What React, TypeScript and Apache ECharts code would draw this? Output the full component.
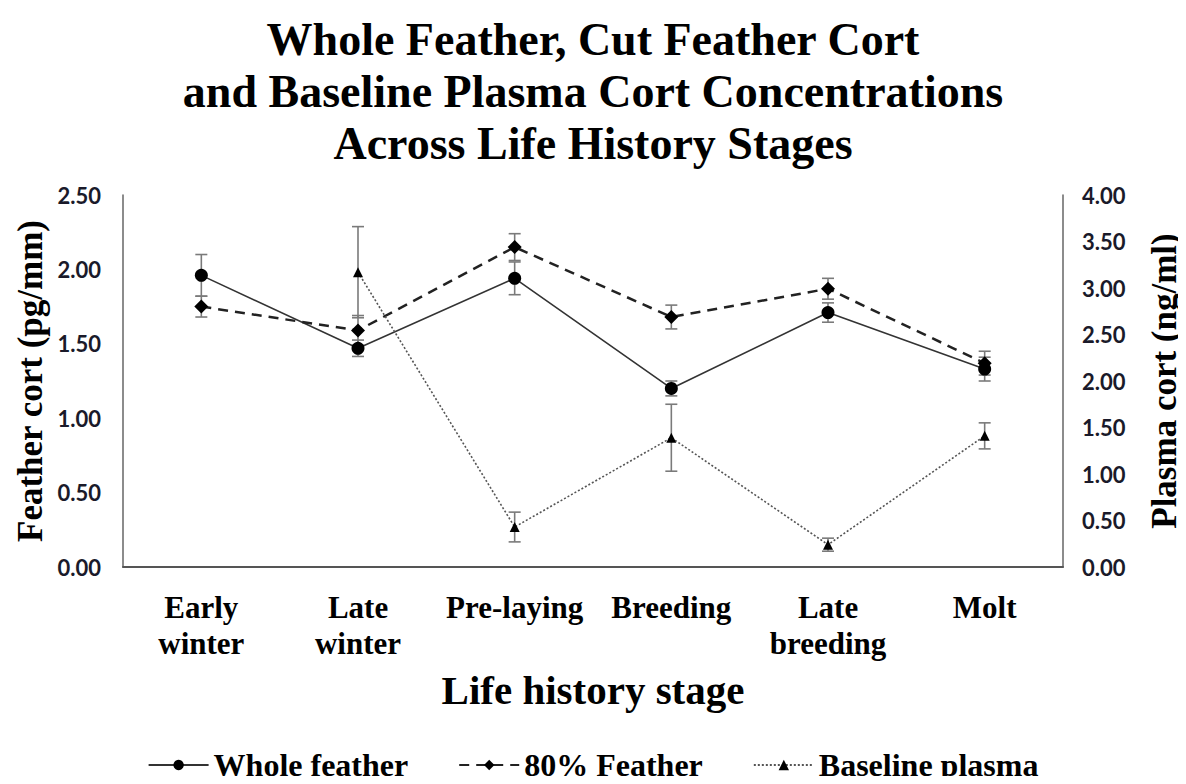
import React, { useEffect, useRef } from "react";
import * as echarts from "echarts";

const categories = ["Early\nwinter", "Late\nwinter", "Pre-laying", "Breeding", "Late\nbreeding", "Molt"];
const wholeFeather = [1.96, 1.47, 1.94, 1.2, 1.71, 1.33];
const wholeFeatherErr = [0.14, 0.055, 0.11, 0.05, 0.065, 0.08];
const cutFeather = [1.75, 1.59, 2.15, 1.68, 1.87, 1.37];
const cutFeatherErr = [0.07, 0.1, 0.09, 0.08, 0.07, 0.08];
const plasma: (number | null)[] = [null, 3.17, 0.43, 1.39, 0.24, 1.41];
const plasmaErr: (number | null)[] = [null, 0.49, 0.16, 0.36, 0.07, 0.14];
const leftTicks = { min: 0, max: 2.5, interval: 0.5 };
const rightTicks = { min: 0, max: 4, interval: 0.5 };

const SERIF = "'Liberation Serif', 'Times New Roman', serif";
const SANS = "Lato, 'Noto Sans', sans-serif";

function errData(vals: (number | null)[], errs: (number | null)[]) {
  const out: number[][] = [];
  vals.forEach((v, i) => {
    const e = errs[i];
    if (v != null && e != null) out.push([i, v - e, v + e]);
  });
  return out;
}

function errRender(params: any, api: any) {
  const x = api.value(0);
  const lo = api.value(1);
  const hi = api.value(2);
  const p1 = api.coord([x, hi]);
  const p2 = api.coord([x, lo]);
  const w = 6;
  const style = { stroke: "#7a7a7a", lineWidth: 1.6 };
  return {
    type: "group",
    children: [
      { type: "line", shape: { x1: p1[0], y1: p1[1], x2: p2[0], y2: p2[1] }, style },
      { type: "line", shape: { x1: p1[0] - w, y1: p1[1], x2: p1[0] + w, y2: p1[1] }, style },
      { type: "line", shape: { x1: p2[0] - w, y1: p2[1], x2: p2[0] + w, y2: p2[1] }, style },
    ],
  };
}

export default function App() {
  const ref = useRef<HTMLDivElement>(null);
  useEffect(() => {
    if (!ref.current) return;
    const chart = echarts.init(ref.current, null, { renderer: "svg" });
    const axisLabelStyle = {
      fontFamily: SANS,
      fontWeight: "bold" as const,
      fontSize: 22,
      color: "#1a1a2a",
    };
    chart.setOption({
      animation: false,
      backgroundColor: "#ffffff",
      title: {
        text: "Whole Feather, Cut Feather Cort\nand Baseline Plasma Cort Concentrations\nAcross Life History Stages",
        left: "center",
        top: 8,
        textStyle: {
          fontFamily: SERIF,
          fontWeight: "bold",
          fontSize: 46,
          lineHeight: 52,
          color: "#000",
        },
      },
      legend: {
        data: ["Whole feather", "80% Feather", "Baseline plasma"],
        left: "center",
        top: 744,
        itemWidth: 60,
        itemHeight: 13,
        itemGap: 50,
        textStyle: { fontFamily: SERIF, fontWeight: "bold", fontSize: 32, color: "#000" },
      },
      grid: { left: 123, right: 123, top: 195, bottom: 217, outerBoundsMode: "none", containLabel: false },
      xAxis: {
        type: "category",
        data: categories,
        boundaryGap: true,
        axisTick: { show: false },
        axisLine: { lineStyle: { color: "#555", width: 2 } },
        axisLabel: {
          fontFamily: SERIF,
          fontWeight: "bold",
          fontSize: 31,
          lineHeight: 36,
          color: "#000",
          margin: 22,
          interval: 0,
        },
        name: "Life history stage",
        nameLocation: "middle",
        nameGap: 102,
        nameMoveOverlap: false,
        nameTextStyle: { fontFamily: SERIF, fontWeight: "bold", fontSize: 41, color: "#000" },
      },
      yAxis: [
        {
          type: "value",
          ...leftTicks,
          splitLine: { show: false },
          axisTick: { show: false },
          axisLine: { show: true, lineStyle: { color: "#666", width: 1.5 } },
          axisLabel: { ...axisLabelStyle, margin: 22, formatter: (v: number) => v.toFixed(2) },
          name: "Feather cort (pg/mm)",
          nameLocation: "middle",
          nameGap: 75,
          nameMoveOverlap: false,
          nameTextStyle: { fontFamily: SERIF, fontWeight: "bold", fontSize: 35, color: "#000" },
        },
        {
          type: "value",
          ...rightTicks,
          position: "right",
          splitLine: { show: false },
          axisTick: { show: false },
          axisLine: { show: true, lineStyle: { color: "#666", width: 1.5 } },
          axisLabel: { ...axisLabelStyle, margin: 19, formatter: (v: number) => v.toFixed(2) },
          name: "Plasma cort (ng/ml)",
          nameLocation: "middle",
          nameGap: 84,
          nameRotate: 90,
          nameMoveOverlap: false,
          nameTextStyle: { fontFamily: SERIF, fontWeight: "bold", fontSize: 35, color: "#000" },
        },
      ],
      series: [
        {
          type: "custom",
          name: "wf-err",
          yAxisIndex: 0,
          z: 1,
          renderItem: errRender,
          encode: { x: 0, y: [1, 2] },
          data: errData(wholeFeather, wholeFeatherErr),
        },
        {
          type: "custom",
          name: "cf-err",
          yAxisIndex: 0,
          z: 1,
          renderItem: errRender,
          encode: { x: 0, y: [1, 2] },
          data: errData(cutFeather, cutFeatherErr),
        },
        {
          type: "custom",
          name: "pl-err",
          yAxisIndex: 1,
          z: 1,
          renderItem: errRender,
          encode: { x: 0, y: [1, 2] },
          data: errData(plasma, plasmaErr),
        },
        {
          type: "line",
          name: "Whole feather",
          yAxisIndex: 0,
          z: 3,
          data: wholeFeather,
          symbol: "circle",
          symbolSize: 13,
          itemStyle: { color: "#000" },
          lineStyle: { color: "#333", width: 1.6, type: "solid" },
        },
        {
          type: "line",
          name: "80% Feather",
          yAxisIndex: 0,
          z: 3,
          data: cutFeather,
          symbol: "diamond",
          symbolSize: 14,
          itemStyle: { color: "#000" },
          lineStyle: { color: "#222", width: 2.5, type: [10, 7] },
        },
        {
          type: "line",
          name: "Baseline plasma",
          yAxisIndex: 1,
          z: 3,
          data: plasma.map((v) => (v == null ? "-" : v)),
          symbol: "triangle",
          symbolSize: 10,
          itemStyle: { color: "#000" },
          lineStyle: { color: "#555", width: 1.6, type: [2, 2] },
        },
      ],
    });
    return () => chart.dispose();
  }, []);
  return <div ref={ref} style={{ width: 1186, height: 784, margin: -8 }} />;
}
